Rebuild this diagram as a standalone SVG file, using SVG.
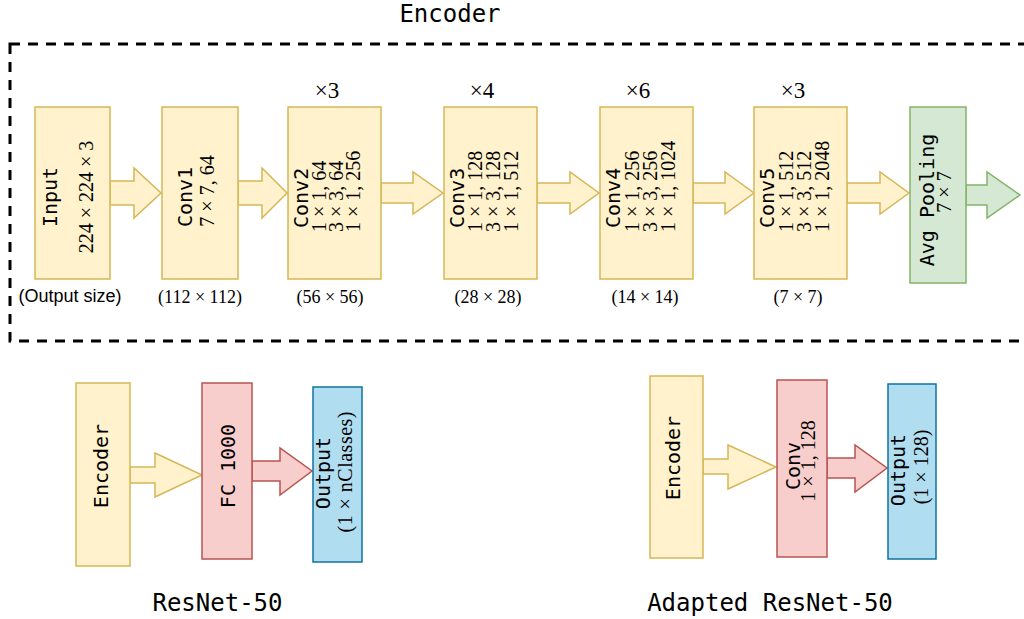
<svg xmlns="http://www.w3.org/2000/svg" width="1024" height="619" viewBox="0 0 1024 619">
<style>
.y{fill:#fff2cc;stroke:#d6b656;stroke-width:1.5}
.g{fill:#d5e8d4;stroke:#82b366;stroke-width:1.5}
.r{fill:#f8cecc;stroke:#b85450;stroke-width:1.5}
.b{fill:#b1ddf0;stroke:#10739e;stroke-width:1.5}
.lbl{font-family:"DejaVu Sans Mono",monospace;font-size:20px;fill:#000}
.ttl{font-family:"DejaVu Sans Mono",monospace;font-size:24px;fill:#000}
.m{font-family:"Liberation Serif","Times New Roman",serif;font-size:20px;fill:#000}
.mx{font-family:"Liberation Serif","Times New Roman",serif;font-size:23px;fill:#000}
.ms{font-family:"Liberation Serif","Times New Roman",serif;font-size:18px;fill:#000}
.s{font-family:"Liberation Sans",Arial,sans-serif;font-size:18px;fill:#000}
</style>
<rect x="10" y="44" width="1040" height="297" fill="none" stroke="#000" stroke-width="3" stroke-dasharray="10 8"/>
<text class="ttl" x="450" y="22" text-anchor="middle">Encoder</text>
<g id="connectors">
<polygon class="y" points="110,181 134,181 134,168 161,193 134,218 134,205 110,205"/>
<polygon class="y" points="238,181 262,181 262,168 287,193 262,218 262,205 238,205"/>
<polygon class="y" points="381,183 413,183 413,172 443,193 413,214 413,203 381,203"/>
<polygon class="y" points="537,183 570,183 570,172 599,193 570,214 570,203 537,203"/>
<polygon class="y" points="693,183 725,183 725,172 754,193 725,214 725,203 693,203"/>
<polygon class="y" points="847,183 880,183 880,172 909,193 880,214 880,203 847,203"/>
<polygon class="g" points="966,185 987,185 987,172 1020,195 987,218 987,205 966,205"/>
<polygon class="y" points="130,467 155,467 155,453 202,475 155,497 155,483 130,483"/>
<polygon class="r" points="252,461 280,461 280,448 312,471 280,495 280,481 252,481"/>
<polygon class="y" points="703,459 728,459 728,445 776,467 728,489 728,474 703,474"/>
<polygon class="r" points="827,458 855,458 855,445 887,468 855,492 855,478 827,478"/>
</g>
<g id="input">
<rect class="y" x="35" y="107" width="75" height="172"/>
<text class="lbl" transform="translate(57 197) rotate(-90)" text-anchor="middle">Input</text>
<text class="m" transform="translate(93 197) rotate(-90)" text-anchor="middle">224 × 224 × 3</text>
</g>
<g id="conv1">
<rect class="y" x="162" y="107" width="76" height="172"/>
<text class="lbl" transform="translate(192 197) rotate(-90)" text-anchor="middle">Conv1</text>
<text class="m" transform="translate(214 191) rotate(-90)" text-anchor="middle">7 × 7, 64</text>
</g>
<g id="conv2">
<rect class="y" x="288" y="107" width="93" height="172"/>
<text class="lbl" transform="translate(308 228) rotate(-90)">Conv2</text>
<text class="m" transform="translate(326 232) rotate(-90)">1 × 1, 64</text>
<text class="m" transform="translate(343 232) rotate(-90)">3 × 3, 64</text>
<text class="m" transform="translate(360 232) rotate(-90)">1 × 1, 256</text>
<text class="mx" x="327" y="98" text-anchor="middle">×3</text>
</g>
<g id="conv3">
<rect class="y" x="444" y="107" width="93" height="172"/>
<text class="lbl" transform="translate(464 228) rotate(-90)">Conv3</text>
<text class="m" transform="translate(482 232) rotate(-90)">1 × 1, 128</text>
<text class="m" transform="translate(500 232) rotate(-90)">3 × 3, 128</text>
<text class="m" transform="translate(518 232) rotate(-90)">1 × 1, 512</text>
<text class="mx" x="482" y="98" text-anchor="middle">×4</text>
</g>
<g id="conv4">
<rect class="y" x="600" y="107" width="93" height="172"/>
<text class="lbl" transform="translate(620 228) rotate(-90)">Conv4</text>
<text class="m" transform="translate(639 232) rotate(-90)">1 × 1, 256</text>
<text class="m" transform="translate(657 232) rotate(-90)">3 × 3, 256</text>
<text class="m" transform="translate(675 232) rotate(-90)">1 × 1, 1024</text>
<text class="mx" x="638" y="98" text-anchor="middle">×6</text>
</g>
<g id="conv5">
<rect class="y" x="754" y="107" width="93" height="172"/>
<text class="lbl" transform="translate(774 228) rotate(-90)">Conv5</text>
<text class="m" transform="translate(793 232) rotate(-90)">1 × 1, 512</text>
<text class="m" transform="translate(811 232) rotate(-90)">3 × 3, 512</text>
<text class="m" transform="translate(829 232) rotate(-90)">1 × 1, 2048</text>
<text class="mx" x="793" y="98" text-anchor="middle">×3</text>
</g>
<g id="avgpool">
<rect class="g" x="910" y="107" width="56" height="176"/>
<text class="lbl" transform="translate(934 200) rotate(-90)" text-anchor="middle">Avg Pooling</text>
<text class="m" transform="translate(951 192) rotate(-90)" text-anchor="middle">7 × 7</text>
</g>
<g id="sizes">
<text class="s" x="70" y="302" text-anchor="middle">(Output size)</text>
<text class="ms" x="200" y="303" text-anchor="middle">(112 × 112)</text>
<text class="ms" x="330" y="303" text-anchor="middle">(56 × 56)</text>
<text class="ms" x="488" y="303" text-anchor="middle">(28 × 28)</text>
<text class="ms" x="645" y="303" text-anchor="middle">(14 × 14)</text>
<text class="ms" x="798" y="303" text-anchor="middle">(7 × 7)</text>
</g>
<g id="encoder-a">
<rect class="y" x="76" y="383" width="54" height="183"/>
<text class="lbl" transform="translate(108 466) rotate(-90)" text-anchor="middle">Encoder</text>
</g>
<g id="fc1000">
<rect class="r" x="202" y="383" width="50" height="176"/>
<text class="lbl" transform="translate(235 466) rotate(-90)" text-anchor="middle">FC 1000</text>
</g>
<g id="output-a">
<rect class="b" x="313" y="387" width="49" height="175"/>
<text class="lbl" transform="translate(330 473) rotate(-90)" text-anchor="middle">Output</text>
<text class="m" transform="translate(352 472) rotate(-90)" text-anchor="middle" textLength="121">(1 × nClasses)</text>
</g>
<text class="ttl" x="217.5" y="611" text-anchor="middle">ResNet-50</text>
<g id="encoder-b">
<rect class="y" x="650" y="376" width="53" height="182"/>
<text class="lbl" transform="translate(680 458) rotate(-90)" text-anchor="middle">Encoder</text>
</g>
<g id="conv">
<rect class="r" x="777" y="380" width="50" height="177"/>
<text class="lbl" transform="translate(800 466) rotate(-90)" text-anchor="middle">Conv</text>
<text class="m" transform="translate(815 461) rotate(-90)" text-anchor="middle">1 × 1, 128</text>
</g>
<g id="output-b">
<rect class="b" x="888" y="384" width="48" height="175"/>
<text class="lbl" transform="translate(905 470) rotate(-90)" text-anchor="middle">Output</text>
<text class="m" transform="translate(928 467) rotate(-90)" text-anchor="middle">(1 × 128)</text>
</g>
<text class="ttl" x="770" y="611" text-anchor="middle">Adapted ResNet-50</text>
</svg>
